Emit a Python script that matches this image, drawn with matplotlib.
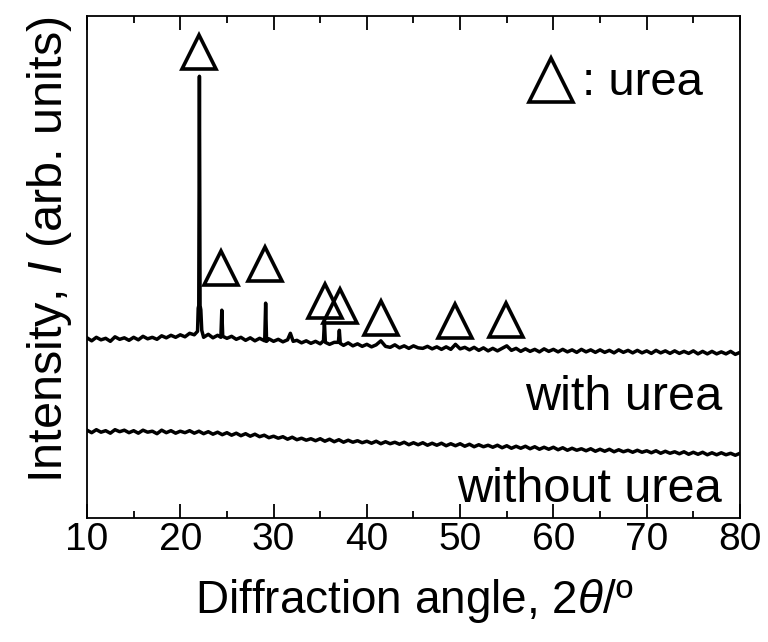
import numpy as np
import matplotlib
matplotlib.use("Agg")
import matplotlib.pyplot as plt
from matplotlib.ticker import MultipleLocator

# --------------------------------------------------
# DATA (arbitrary units)
# --------------------------------------------------

# sample with urea: baseline every 0.5 deg plus the urea reflections
urea_angle = [
    10.0, 10.5, 11.0, 11.5, 12.0, 12.5, 13.0, 13.5, 14.0, 14.5, 15.0, 15.5,
    16.0, 16.5, 17.0, 17.5, 18.0, 18.5, 19.0, 19.5, 20.0, 20.5, 21.0, 21.5,
    21.85, 21.92, 21.98, 22.05, 22.12, 22.2, 22.3, 22.5, 23.0, 23.5, 24.0,
    24.35, 24.45, 24.55, 25.0, 25.5, 26.0, 26.5, 27.0, 27.5, 28.0, 28.5,
    29.05, 29.15, 29.25, 29.5, 30.0, 30.5, 31.0, 31.5, 31.8, 32.1, 32.5,
    33.0, 33.5, 34.0, 34.5, 35.0, 35.35, 35.45, 35.55, 36.0, 36.5, 36.95,
    37.05, 37.15, 37.5, 38.0, 38.5, 39.0, 39.5, 40.0, 40.5, 41.0, 41.5,
    42.0, 42.5, 43.0, 43.5, 44.0, 44.5, 45.0, 45.5, 46.0, 46.5, 47.0, 47.5,
    48.0, 48.5, 49.0, 49.5, 50.0, 50.5, 51.0, 51.5, 52.0, 52.5, 53.0, 53.5,
    54.0, 54.5, 55.0, 55.5, 56.0, 56.5, 57.0, 57.5, 58.0, 58.5, 59.0, 59.5,
    60.0, 60.5, 61.0, 61.5, 62.0, 62.5, 63.0, 63.5, 64.0, 64.5, 65.0, 65.5,
    66.0, 66.5, 67.0, 67.5, 68.0, 68.5, 69.0, 69.5, 70.0, 70.5, 71.0, 71.5,
    72.0, 72.5, 73.0, 73.5, 74.0, 74.5, 75.0, 75.5, 76.0, 76.5, 77.0, 77.5,
    78.0, 78.5, 79.0, 79.5, 80.0,
]
urea_int = [
    35.9, 35.3, 36.0, 35.5, 35.8, 35.2, 36.1, 35.6, 35.9, 35.4, 36.0, 35.5,
    36.2, 35.7, 36.0, 35.6, 36.3, 35.9, 36.4, 36.0, 36.5, 36.1, 36.8, 36.5,
    37.2, 41.8, 42.3, 88.0, 42.3, 41.5, 37.4, 36.0, 36.6, 35.9, 36.4,
    36.0, 41.4, 36.2, 35.8, 36.2, 35.6, 36.0, 35.4, 35.9, 35.3, 35.8,
    35.3, 42.8, 35.2, 35.7, 35.2, 35.6, 35.1, 35.5, 36.8, 35.2, 35.4,
    34.9, 35.3, 34.8, 35.2, 34.7, 35.3, 39.2, 35.0, 34.6, 35.0, 35.0,
    37.4, 34.8, 34.4, 34.9, 34.3, 34.7, 34.2, 34.6, 34.1, 34.5, 35.3,
    34.2, 34.0, 34.5, 33.9, 34.3, 33.8, 34.3, 33.9, 33.8, 34.2, 33.7, 34.1,
    33.6, 34.1, 33.6, 34.6, 33.7, 34.0, 33.5, 34.0, 33.4, 33.9, 33.3, 33.8,
    33.3, 33.8, 34.3, 33.4, 33.8, 33.2, 33.7, 33.2, 33.6, 33.1, 33.7, 33.2,
    33.6, 33.1, 33.6, 33.1, 33.5, 33.0, 33.6, 33.1, 33.5, 33.0, 33.5, 33.0,
    33.4, 32.9, 33.5, 33.0, 33.4, 32.9, 33.4, 32.9, 33.3, 32.8, 33.4, 32.9,
    33.3, 32.8, 33.3, 32.8, 33.2, 32.8, 33.3, 32.7, 33.2, 32.7, 33.2, 32.7,
    33.1, 32.7, 33.2, 32.6, 33.0,
]

# sample without urea, one value every 0.5 deg from 10 to 80
plain_angle = np.arange(10.0, 80.01, 0.5)
plain_int = [
    17.5, 17.0, 17.6, 17.1, 17.4, 16.9, 17.6, 17.2, 17.5, 17.0, 17.4, 16.9,
    17.5, 17.1, 17.3, 16.8, 17.5, 17.0, 17.4, 16.9, 17.3,
    17.0, 17.4, 16.9, 17.3, 16.8, 17.2, 16.7, 17.1, 16.6, 17.0,
    16.5, 16.9, 16.4, 16.8, 16.3, 16.7, 16.2, 16.5, 16.0, 16.3,
    15.9, 16.2, 15.7, 16.1, 15.6, 15.9, 15.5, 15.8, 15.4, 15.8,
    15.3, 15.7, 15.2, 15.6, 15.1, 15.5, 15.1, 15.4, 15.0, 15.3,
    14.9, 15.3, 14.8, 15.2, 14.8, 15.1, 14.7, 15.1, 14.6, 15.0,
    14.6, 15.0, 14.5, 14.9, 14.5, 14.9, 14.4, 14.8, 14.4, 14.8,
    14.3, 14.7, 14.2, 14.6, 14.2, 14.5, 14.1, 14.5, 14.0, 14.4,
    13.9, 14.3, 13.9, 14.3, 13.8, 14.2, 13.7, 14.1, 13.7, 14.1,
    13.6, 14.0, 13.5, 13.9, 13.5, 13.8, 13.4, 13.8, 13.3, 13.7,
    13.3, 13.7, 13.2, 13.6, 13.2, 13.5, 13.1, 13.5, 13.1, 13.4,
    13.0, 13.4, 12.9, 13.3, 12.9, 13.2, 12.8, 13.2, 12.7, 13.1,
    12.7, 13.1, 12.6, 13.0, 12.6, 13.0, 12.6, 12.9, 12.5, 12.9,
]

# triangle markers over the urea reflections
mark_angle = [22.0, 24.4, 29.1, 35.5, 37.1, 41.5, 49.4, 54.9]
mark_height = [92.8, 49.9, 50.6, 43.3, 42.2, 39.8, 39.3, 39.4]

# --------------------------------------------------
# STYLE
# --------------------------------------------------

plt.rcParams["font.family"] = ["Liberation Sans", "DejaVu Sans"]
plt.rcParams["mathtext.fontset"] = "custom"
plt.rcParams["mathtext.it"] = "Liberation Sans:italic"
plt.rcParams["mathtext.rm"] = "Liberation Sans"

fig = plt.figure(figsize=(7.68, 6.42), dpi=100)
ax = fig.add_axes([0.1133, 0.1931, 0.8502, 0.7819])

ax.plot(urea_angle, urea_int, color="black", lw=2.5)
ax.plot(plain_angle, plain_int, color="black", lw=2.5)

ax.plot(mark_angle, mark_height, ls="none", marker="^", ms=24,
        mfc="none", mec="black", mew=2.6)

# key in the top right
ax.plot([59.7], [87.3], ls="none", marker="^", ms=31,
        mfc="none", mec="black", mew=2.6)
ax.text(63.1, 84.3, ": urea", fontsize=34, va="baseline", ha="left")

ax.text(78.1, 21.5, "with urea", fontsize=35, va="baseline", ha="right")
ax.text(78.1, 3.2, "without urea", fontsize=35, va="baseline", ha="right")

ax.set_xlim(10, 80)
ax.set_ylim(0, 100)
ax.xaxis.set_major_locator(MultipleLocator(10))
ax.xaxis.set_minor_locator(MultipleLocator(5))
ax.tick_params(axis="x", which="both", direction="in", top=True,
               labelsize=28, pad=3, width=1.3)
ax.tick_params(axis="x", which="major", length=10)
ax.tick_params(axis="x", which="minor", length=5)
ax.set_yticks([])
for s in ax.spines.values():
    s.set_linewidth(1.3)

fig.text(414 / 768, 1 - 613 / 642, "Diffraction angle, 2$\\it{\u03b8}$/\u00ba",
         fontsize=33, ha="center", va="baseline")
fig.text(50 / 768, 1 - 250 / 642, "Intensity, $\\it{I}$ (arb. units)",
         fontsize=35, ha="center", va="center", rotation=90)

fig.savefig("out.png", dpi=100)
